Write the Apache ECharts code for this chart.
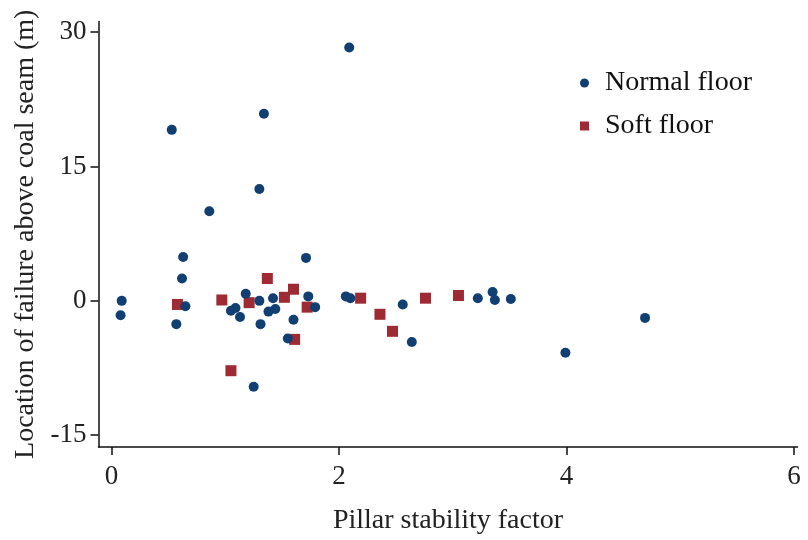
<!DOCTYPE html>
<html>
<head>
<meta charset="utf-8">
<script src="https://cdn.jsdelivr.net/npm/echarts@6/dist/echarts.min.js"></script>
<style>html,body{margin:0;padding:0;background:#fff;}#c{width:808px;height:540px;}</style>
</head>
<body>
<div id="c"></div>
<script>
var xTicks = [0, 2, 4, 6];
var yTicks = [-15, 0, 15, 30];
var normalFloor = [
  [0.09, 0.0], [0.08, -1.6], [0.53, 19.1], [0.57, -2.6], [0.63, 4.9], [0.62, 2.5], [0.65, -0.6],
  [0.86, 10.0], [1.34, 20.9], [1.30, 12.5], [1.25, -9.6], [1.18, 0.8], [1.05, -1.1], [1.09, -0.8],
  [1.13, -1.8], [1.30, 0.0], [1.42, 0.3], [1.38, -1.2], [1.44, -0.9], [1.31, -2.6], [1.60, -2.1],
  [1.55, -4.2], [1.71, 4.8], [1.73, 0.5], [1.79, -0.7], [2.09, 28.3], [2.06, 0.5], [2.10, 0.3],
  [2.56, -0.4], [2.64, -4.6], [3.22, 0.3], [3.35, 1.0], [3.37, 0.1], [3.51, 0.2], [3.99, -5.8], [4.69, -1.9]
];
var softFloor = [
  [0.58, -0.4], [0.97, 0.1], [1.21, -0.2], [1.37, 2.5], [1.52, 0.4], [1.60, 1.3], [1.72, -0.7],
  [1.61, -4.3], [1.05, -7.8], [2.19, 0.3], [2.36, -1.5], [2.47, -3.4], [2.76, 0.3], [3.05, 0.6]
];
var FONT = '"Liberation Serif", "DejaVu Serif", serif';
var chart = echarts.init(document.getElementById('c'), null, {renderer: 'canvas'});
chart.setOption({
  animation: false,
  backgroundColor: '#fff',
  grid: {left: 98.5, right: 10.5, top: 21.5, bottom: 87, containLabel: false},
  legend: {
    orient: 'vertical', left: 575, top: 63, itemGap: 13,
    itemWidth: 9, itemHeight: 9,
    textStyle: {fontFamily: FONT, fontSize: 28, color: '#111', lineHeight: 30, padding: [0, 0, 0, 11]},
    data: [{name: 'Normal floor', icon: 'circle'}, {name: 'Soft floor', icon: 'rect'}]
  },
  xAxis: {
    type: 'value', min: -0.114, max: 6.03,
    name: 'Pillar stability factor', nameLocation: 'middle', nameGap: 60,
    nameTextStyle: {fontFamily: FONT, fontSize: 28, color: '#222'},
    axisLine: {show: true, onZero: false, lineStyle: {color: '#111', width: 1.5}},
    axisTick: {show: true, length: 8, lineStyle: {color: '#111', width: 1.5}, customValues: xTicks},
    axisLabel: {fontFamily: FONT, fontSize: 27, color: '#222', margin: 16, customValues: xTicks},
    splitLine: {show: false}
  },
  yAxis: {
    type: 'value', min: -16.32, max: 31.2,
    name: 'Location of failure above coal seam (m)', nameLocation: 'middle', nameGap: 52,
    nameTextStyle: {fontFamily: FONT, fontSize: 28, color: '#222'},
    axisLine: {show: true, onZero: false, lineStyle: {color: '#111', width: 1.5}},
    axisTick: {show: true, length: 8, lineStyle: {color: '#111', width: 1.5}, customValues: yTicks},
    axisLabel: {fontFamily: FONT, fontSize: 27, color: '#222', margin: 12, customValues: yTicks},
    splitLine: {show: false}
  },
  series: [
    {name: 'Normal floor', type: 'scatter', symbol: 'circle', symbolSize: 10, z: 3,
     itemStyle: {color: '#123f72', opacity: 1}, data: normalFloor},
    {name: 'Soft floor', type: 'scatter', symbol: 'rect', symbolSize: 11, z: 2,
     itemStyle: {color: '#9e2a33', opacity: 1}, data: softFloor}
  ]
});
</script>
</body>
</html>
